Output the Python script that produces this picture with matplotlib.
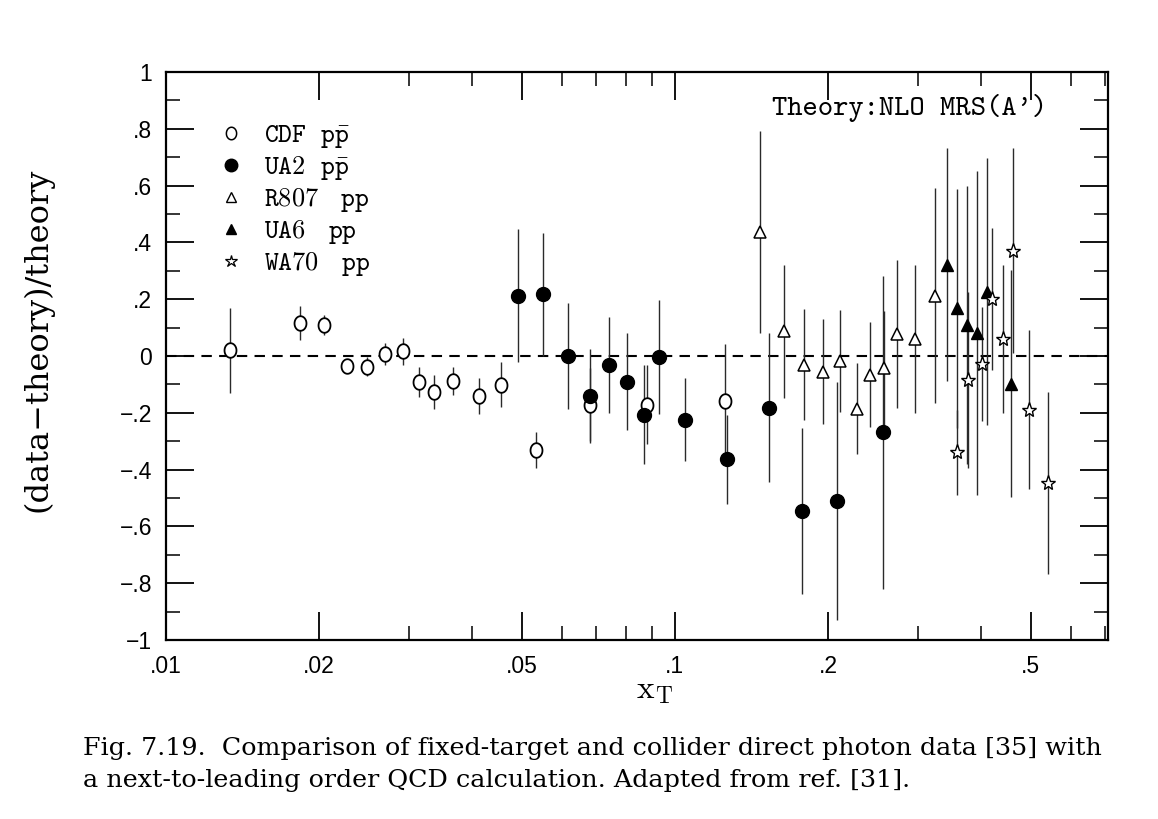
import numpy as np
import matplotlib
matplotlib.use("Agg")
import matplotlib.pyplot as plt
from matplotlib.path import Path
from matplotlib.lines import Line2D
from matplotlib.ticker import FixedLocator, FixedFormatter

plt.rcParams['mathtext.fontset'] = 'cm'

# ---------------- data ----------------
cdf_x = [0.01336, 0.01832, 0.0204, 0.0227, 0.0248, 0.0269, 0.0292, 0.0314,
         0.0336, 0.0366, 0.0412, 0.0455, 0.0533, 0.0681, 0.0881, 0.1254]
cdf_y = [0.02, 0.115, 0.108, -0.035, -0.038, 0.007, 0.017, -0.091,
         -0.126, -0.087, -0.140, -0.101, -0.332, -0.171, -0.171, -0.157]
cdf_err = [0.15, 0.06, 0.035, 0.022, 0.033, 0.04, 0.047, 0.052,
           0.06, 0.05, 0.063, 0.08, 0.063, 0.13, 0.14, 0.2]

ua2_x = [0.0492, 0.0551, 0.0616, 0.0681, 0.0741, 0.0805, 0.0869, 0.0931,
         0.1047, 0.1265, 0.1530, 0.1776, 0.2081, 0.2562]
ua2_y = [0.213, 0.217, 0.0, -0.140, -0.031, -0.091, -0.206, -0.003,
         -0.224, -0.364, -0.182, -0.545, -0.51, -0.269]
ua2_err = [0.235, 0.217, 0.187, 0.166, 0.17, 0.171, 0.175, 0.2,
           0.147, 0.157, 0.262, 0.293, 0.42, 0.55]

r807_x = [0.1469, 0.1637, 0.1792, 0.1953, 0.2109, 0.2279, 0.2416, 0.2574,
          0.2730, 0.2961, 0.3242]
r807_y = [0.437, 0.087, -0.031, -0.056, -0.017, -0.185, -0.066, -0.042,
          0.077, 0.059, 0.213]
r807_err = [0.355, 0.235, 0.195, 0.185, 0.18, 0.16, 0.185, 0.2,
            0.26, 0.26, 0.38]

ua6_x = [0.3423, 0.3581, 0.3747, 0.3920, 0.4102, 0.4572]
ua6_y = [0.322, 0.168, 0.108, 0.080, 0.227, -0.098]
ua6_err = [0.41, 0.42, 0.49, 0.57, 0.47, 0.40]

wa70_x = [0.3581, 0.3773, 0.4010, 0.4197, 0.4410, 0.4613, 0.4960, 0.5404]
wa70_y = [-0.339, -0.084, -0.028, 0.199, 0.059, 0.371, -0.189, -0.448]
wa70_err = [0.15, 0.31, 0.2, 0.25, 0.26, 0.36, 0.28, 0.32]

series_labels = [r'$\mathtt{CDF\ \ p\bar{p}}$', r'$\mathtt{UA2\ \ p\bar{p}}$',
                 r'$\mathtt{R807\ \ \ pp}$', r'$\mathtt{UA6\ \ \ pp}$',
                 r'$\mathtt{WA70\ \ \ pp}$']

x_major = [0.01, 0.02, 0.05, 0.1, 0.2, 0.5]
x_major_labels = ['.01', '.02', '.05', '.1', '.2', '.5']
x_minor = [0.03, 0.04, 0.06, 0.07, 0.08, 0.09, 0.3, 0.4, 0.6, 0.7]
y_major = [-1, -0.8, -0.6, -0.4, -0.2, 0, 0.2, 0.4, 0.6, 0.8, 1]
y_major_labels = ['\u22121', '\u2212.8', '\u2212.6', '\u2212.4', '\u2212.2', '0',
                  '.2', '.4', '.6', '.8', '1']
y_minor = [-0.9, -0.7, -0.5, -0.3, -0.1, 0.1, 0.3, 0.5, 0.7, 0.9]

caption1 = "Fig. 7.19.  Comparison of fixed-target and collider direct photon data [35] with"
caption2 = "a next-to-leading order QCD calculation. Adapted from ref. [31]."

# ---------------- figure ----------------
W, H = 1158, 819
fig = plt.figure(figsize=(W / 100, H / 100), dpi=100)
fig.patch.set_facecolor('white')
ax = fig.add_axes([166 / W, 1 - 640 / H, 942 / W, 568 / H])
ax.set_xscale('log')
ax.set_xlim(0.01, 0.71)
ax.set_ylim(-1, 1)

# ellipse marker for open circles (slightly taller than wide)
t = np.linspace(0, 2 * np.pi, 60)
ell = Path(np.column_stack([0.82 * np.cos(t), np.sin(t)]), closed=True)

ecol = '#2a2a2a'
common = dict(ls='none', ecolor=ecol, elinewidth=1.0, capsize=0, zorder=3)

ax.errorbar(cdf_x, cdf_y, yerr=cdf_err, marker=ell, ms=10.5, mfc='white',
            mec='black', mew=1.3, **common)
ax.errorbar(ua2_x, ua2_y, yerr=ua2_err, marker='o', ms=10, mfc='black',
            mec='black', **common)
ax.errorbar(r807_x, r807_y, yerr=r807_err, marker='^', ms=8, mfc='white',
            mec='black', mew=1.1, **common)
ax.errorbar(ua6_x, ua6_y, yerr=ua6_err, marker='^', ms=9, mfc='black',
            mec='black', **common)
ax.errorbar(wa70_x, wa70_y, yerr=wa70_err, marker='*', ms=11, mfc='white',
            mec='black', mew=1.0, **common)

ax.axhline(0, color='black', lw=1.5, ls=(0, (5, 3.5)), zorder=2)

# ticks
ax.xaxis.set_major_locator(FixedLocator(x_major))
ax.xaxis.set_major_formatter(FixedFormatter(x_major_labels))
ax.xaxis.set_minor_locator(FixedLocator(x_minor))
ax.xaxis.set_minor_formatter(FixedFormatter([''] * len(x_minor)))
ax.yaxis.set_major_locator(FixedLocator(y_major))
ax.yaxis.set_major_formatter(FixedFormatter(y_major_labels))
ax.yaxis.set_minor_locator(FixedLocator(y_minor))

ax.tick_params(which='both', direction='in', top=True, right=True,
               color='black')
ax.tick_params(which='major', length=20, width=1.3, labelsize=16.5, pad=10)
ax.tick_params(which='minor', length=10, width=1.1)
for lab in ax.get_xticklabels() + ax.get_yticklabels():
    lab.set_fontfamily('Liberation Sans')
ax.tick_params(axis='x', which='major', pad=11)
for s in ax.spines.values():
    s.set_linewidth(1.6)

# legend
handles = [
    Line2D([], [], ls='none', marker=ell, ms=9, mfc='white', mec='black', mew=1.1),
    Line2D([], [], ls='none', marker='o', ms=9, mfc='black', mec='black'),
    Line2D([], [], ls='none', marker='^', ms=7, mfc='white', mec='black', mew=1.0),
    Line2D([], [], ls='none', marker='^', ms=7.5, mfc='black', mec='black'),
    Line2D([], [], ls='none', marker='*', ms=9, mfc='white', mec='black', mew=0.9),
]
ax.legend(handles, series_labels, loc='upper left',
          bbox_to_anchor=(220 / W, 1 - 122 / H), bbox_transform=fig.transFigure,
          frameon=False, borderpad=0, borderaxespad=0, handlelength=0.8,
          handletextpad=0.85, labelspacing=0.15, prop={'size': 19})

fig.text(772 / W, 1 - 108 / H, "Theory:NLO MRS(A')", fontfamily='cmtt10',
         fontsize=21, va='center', ha='left')

# axis labels
fig.text(38 / W, 1 - 340 / H, '(data\u2212theory)/theory', rotation=90,
         fontfamily='DejaVu Serif', fontsize=23, va='center', ha='center')
fig.text(655 / W, 1 - 690 / H, r'$\mathrm{x}_\mathrm{T}$', fontsize=24,
         va='center', ha='center')

# caption
fig.text(83 / W, 1 - 749 / H, caption1, fontfamily='DejaVu Serif',
         fontsize=18.3, va='center', ha='left')
fig.text(83 / W, 1 - 781 / H, caption2, fontfamily='DejaVu Serif',
         fontsize=18.3, va='center', ha='left')

fig.savefig('out.png', dpi=100, facecolor='white')
